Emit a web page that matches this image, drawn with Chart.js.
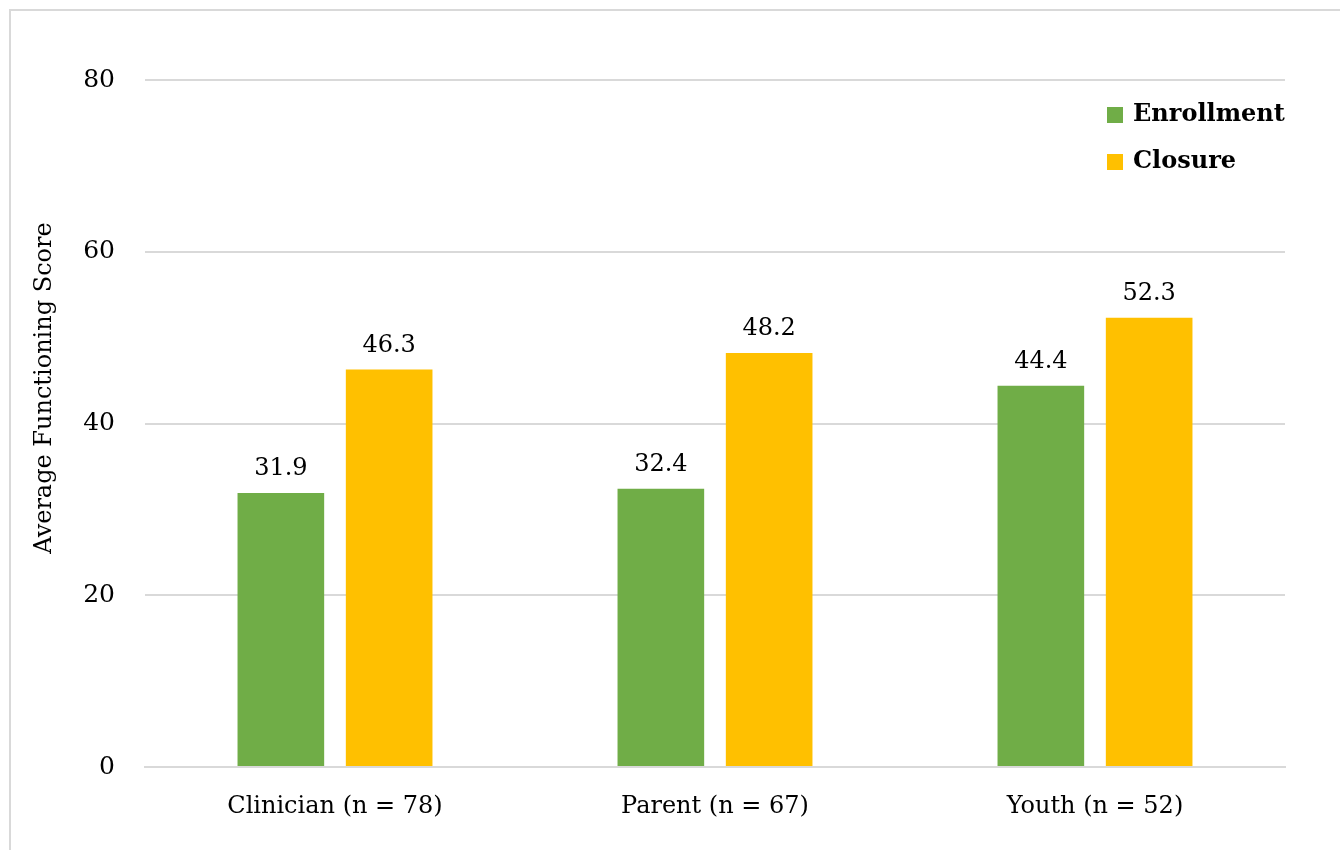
<!DOCTYPE html>
<html>
<head>
<meta charset="utf-8">
<script src="https://cdn.jsdelivr.net/npm/chart.js@4/dist/chart.umd.min.js"></script>
<style>
  html, body { margin: 0; padding: 0; background: #fff; overflow: hidden; }
  #caja { position: absolute; left: 0; top: 0; width: 1340px; height: 850px; }
</style>
</head>
<body>
<div id="caja"><canvas id="grafico"></canvas></div>
<script>
'use strict';

// Datos
const categorias = ['Clinician (n = 78)', 'Parent (n = 67)', 'Youth (n = 52)'];
const valoresEnrollment = [31.9, 32.4, 44.4];
const valoresClosure = [46.3, 48.2, 52.3];
const nombresSeries = ['Enrollment', 'Closure'];
const tituloEjeY = 'Average Functioning Score';

const fuente = "'DejaVu Serif', 'Liberation Serif', serif";
const colores = ['#70ad47', '#ffc000'];

// Marco gris (solo izquierda y arriba, el resto queda fuera del recorte)
const pluginMarco = {
  id: 'marco',
  beforeDraw(chart) {
    const ctx = chart.ctx;
    ctx.save();
    ctx.strokeStyle = '#d9d9d9';
    ctx.lineWidth = 2;
    ctx.beginPath();
    ctx.moveTo(10, chart.height);
    ctx.lineTo(10, 10);
    ctx.lineTo(chart.width, 10);
    ctx.stroke();
    ctx.restore();
  }
};

// Etiquetas de valor sobre las barras
const pluginEtiquetas = {
  id: 'etiquetas',
  afterDatasetsDraw(chart) {
    const ctx = chart.ctx;
    ctx.save();
    ctx.font = '24px ' + fuente;
    ctx.fillStyle = '#000';
    ctx.textAlign = 'center';
    ctx.textBaseline = 'bottom';
    chart.data.datasets.forEach(function (ds, i) {
      chart.getDatasetMeta(i).data.forEach(function (bar, j) {
        ctx.fillText(ds.data[j].toFixed(1), bar.x, bar.y - 12);
      });
    });
    ctx.restore();
  }
};

// Leyenda dentro del area, arriba a la derecha + titulo del eje Y
const pluginLeyenda = {
  id: 'leyendaPropia',
  afterDraw(chart) {
    const ctx = chart.ctx;
    ctx.save();
    ctx.font = 'bold 24px ' + fuente;
    ctx.textBaseline = 'middle';
    ctx.textAlign = 'left';
    chart.data.datasets.forEach(function (ds, i) {
      const y = 115 + i * 47;
      ctx.fillStyle = ds.backgroundColor;
      ctx.fillRect(1107, y - 8, 16, 16);
      ctx.fillStyle = '#000';
      ctx.fillText(ds.label, 1133, y);
    });
    // titulo vertical
    ctx.translate(45, 388);
    ctx.rotate(-Math.PI / 2);
    ctx.font = '24px ' + fuente;
    ctx.textAlign = 'center';
    ctx.fillText(tituloEjeY, 0, 0);
    ctx.restore();
  }
};

new Chart(document.getElementById('grafico').getContext('2d'), {
  type: 'bar',
  data: {
    labels: categorias,
    datasets: [
      { label: nombresSeries[0], data: valoresEnrollment, backgroundColor: colores[0] },
      { label: nombresSeries[1], data: valoresClosure, backgroundColor: colores[1] }
    ]
  },
  options: {
    responsive: true,
    maintainAspectRatio: false,
    animation: false,
    categoryPercentage: 0.57,
    barPercentage: 0.8,
    layout: { padding: { top: 80, right: 55, left: 0, bottom: 0 } },
    plugins: {
      legend: { display: false },
      tooltip: { enabled: false }
    },
    scales: {
      x: {
        grid: { display: false },
        border: { color: '#d9d9d9', width: 2 },
        ticks: { color: '#000', font: { family: fuente, size: 24 }, padding: 17 },
        afterFit: function (s) { s.height = 83; }
      },
      y: {
        min: 0,
        max: 80,
        ticks: { stepSize: 20, color: '#000', font: { family: fuente, size: 25 }, padding: 30 },
        grid: { color: '#d9d9d9', lineWidth: 2, drawTicks: false },
        border: { display: false },
        afterFit: function (s) { s.width = 145; }
      }
    }
  },
  plugins: [pluginMarco, pluginEtiquetas, pluginLeyenda]
});
</script>
</body>
</html>
